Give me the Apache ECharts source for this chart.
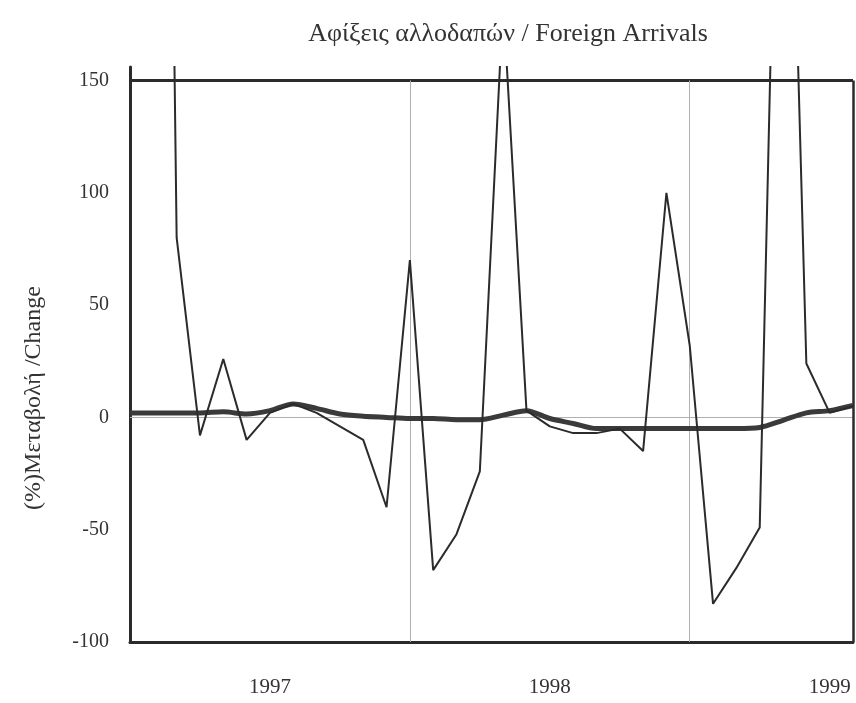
<!DOCTYPE html>
<html>
<head>
<meta charset="utf-8">
<script src="https://cdn.jsdelivr.net/npm/echarts@6/dist/echarts.min.js"></script>
<style>
html,body{margin:0;padding:0;background:#fff;}
#chart{width:856px;height:703px;}
</style>
</head>
<body>
<div id="chart"></div>
<script>
// Months Jan 1997 .. Aug 1999
var months = [
  '1997-01','1997-02','1997-03','1997-04','1997-05','1997-06','1997-07','1997-08','1997-09','1997-10','1997-11','1997-12',
  '1998-01','1998-02','1998-03','1998-04','1998-05','1998-06','1998-07','1998-08','1998-09','1998-10','1998-11','1998-12',
  '1999-01','1999-02','1999-03','1999-04','1999-05','1999-06','1999-07','1999-08'
];
// Monthly % change (thin line)
var monthlyChange = [200, 900, 80, -8, 26, -10, 2, 6, 2, -4, -10, -40,
                     70, -68, -52, -24, 185, 3, -4, -7, -7, -5, -15, 100,
                     32, -83, -67, -49, 400, 24, 2, 5];
// Trend (thick line)
var trendChange = [2, 2, 2, 2, 2.5, 1.5, 3, 6, 4, 1.5, 0.5, 0,
                   -0.5, -0.5, -1, -1, 1, 3, -0.5, -2.7, -5, -5, -5, -5,
                   -5, -5, -5, -4.5, -1.3, 2, 3, 5.3];
var yTicks = {min: -100, max: 150, step: 50};
var yearBreaks = ['1998-01', '1999-01'];
var titleText = 'Αφίξεις αλλοδαπών / Foreign Arrivals';
var yName = '(%)Μεταβολή /Change';

var serif = '"Liberation Serif", "DejaVu Serif", serif';
var ink = '#2b2b2b';

var chart = echarts.init(document.getElementById('chart'), null, {renderer: 'canvas'});

var frameLines = [
  {yAxis: yTicks.max, lineStyle: {color: ink, width: 3, type: 'solid'}},
  {yAxis: 0, lineStyle: {color: '#b0b0b0', width: 1, type: 'solid'}}
];
yearBreaks.forEach(function (m) {
  frameLines.push([{xAxis: m, yAxis: yTicks.min, lineStyle: {color: '#b0b0b0', width: 1, type: 'solid'}},
                   {xAxis: m, yAxis: yTicks.max}]);
});
frameLines.push([{xAxis: months[months.length - 1], yAxis: yTicks.min, lineStyle: {color: ink, width: 2.5, type: 'solid'}},
                 {xAxis: months[months.length - 1], yAxis: yTicks.max}]);

chart.setOption({
  backgroundColor: '#ffffff',
  animation: false,
  title: {
    text: titleText,
    left: 503,
    top: 16,
    textAlign: 'center',
    textStyle: {fontFamily: serif, fontSize: 26, fontWeight: 'normal', color: '#333'}
  },
  graphic: [{
    type: 'text',
    x: 34,
    y: 398,
    rotation: Math.PI / 2,
    style: {text: yName, font: '24px ' + serif, fill: '#333', align: 'center', verticalAlign: 'middle'}
  }],
  grid: {left: 130, right: 3, top: 67, bottom: 61, containLabel: false},
  xAxis: {
    type: 'category',
    data: months,
    boundaryGap: false,
    axisLine: {show: true, onZero: false, lineStyle: {color: ink, width: 3}},
    axisTick: {show: false},
    splitLine: {show: false},
    axisLabel: {
      interval: function (i) { return i % 12 === 6; },
      formatter: function (v) { return v.slice(0, 4); },
      fontFamily: serif, fontSize: 21, color: '#333', margin: 35
    }
  },
  yAxis: {
    type: 'value',
    min: yTicks.min,
    max: 156,
    interval: yTicks.step,
    axisLine: {show: true, lineStyle: {color: ink, width: 3}},
    axisTick: {show: false},
    splitLine: {show: false},
    axisLabel: {
      showMaxLabel: false,
      formatter: function (v) { return (v % 50 === 0) ? String(v) : ''; },
      fontFamily: serif, fontSize: 20, color: '#333', margin: 21
    }
  },
  series: [
    {
      name: 'trend',
      type: 'line',
      data: trendChange,
      symbol: 'none',
      smooth: 0.3,
      lineStyle: {color: '#3a3a3a', width: 5},
      z: 3,
      markLine: {
        silent: true,
        symbol: ['none', 'none'],
        label: {show: false},
        data: frameLines,
        z: 1
      }
    },
    {
      name: 'monthly',
      type: 'line',
      data: monthlyChange,
      symbol: 'none',
      lineStyle: {color: ink, width: 2},
      z: 4
    }
  ]
});
</script>
</body>
</html>
